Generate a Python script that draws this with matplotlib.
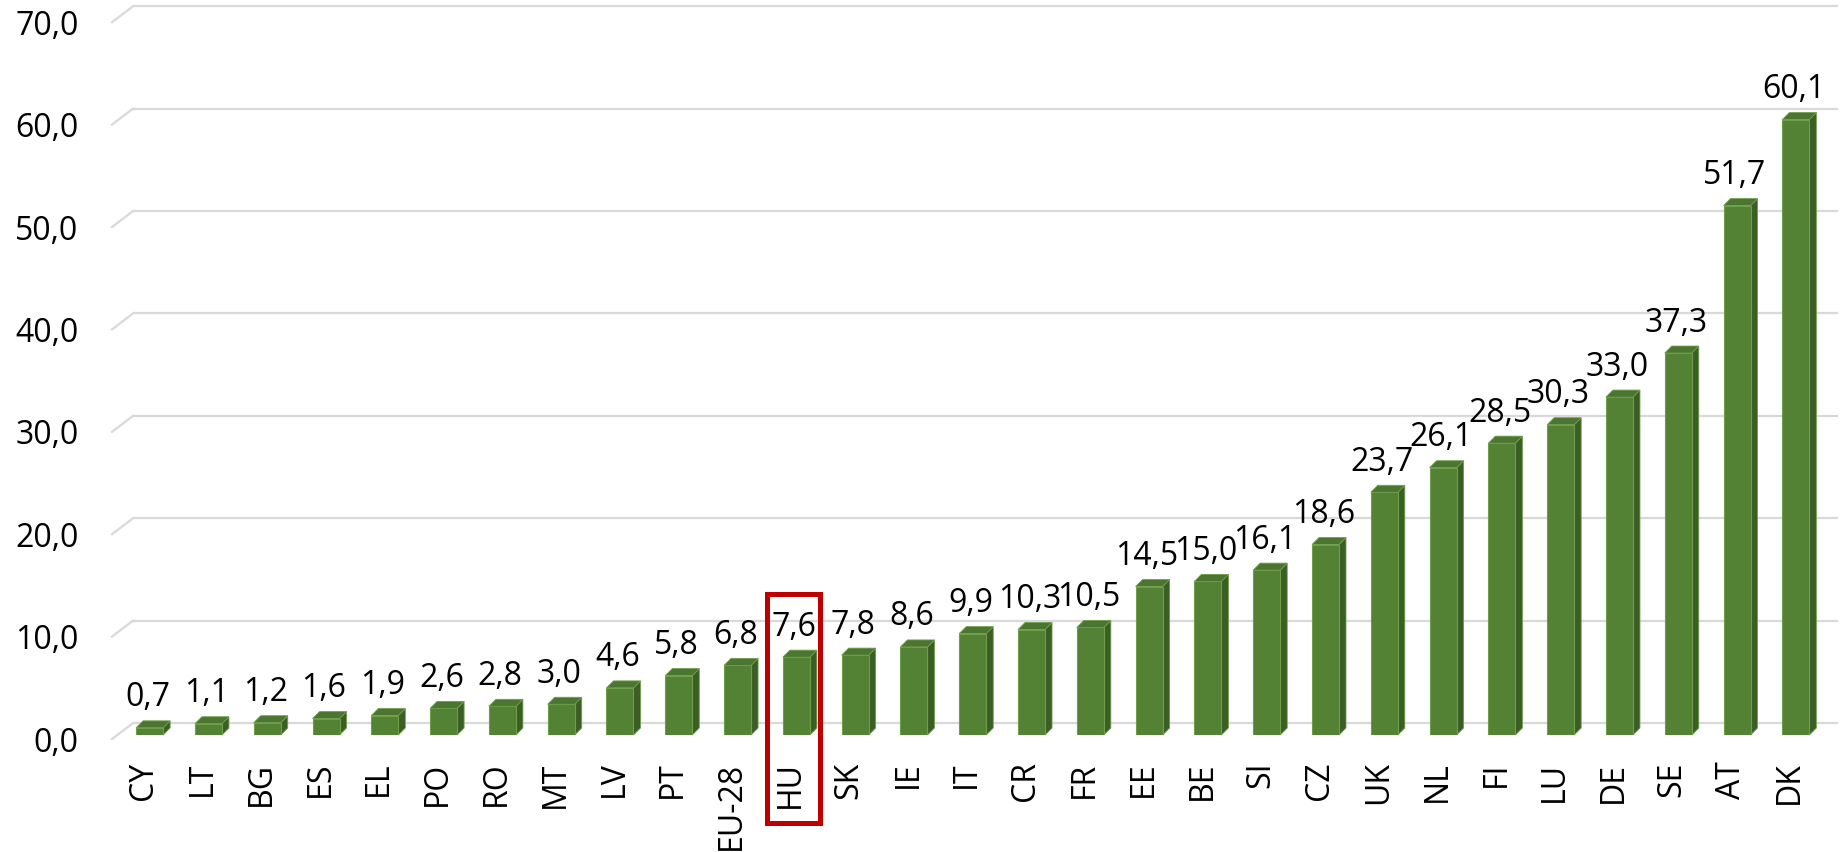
import matplotlib
matplotlib.use('Agg')
import matplotlib.pyplot as plt
import matplotlib.transforms as mtransforms
from matplotlib.patches import Polygon, Rectangle

countries = ['CY', 'LT', 'BG', 'ES', 'EL', 'PO', 'RO', 'MT', 'LV', 'PT', 'EU-28',
             'HU', 'SK', 'IE', 'IT', 'CR', 'FR', 'EE', 'BE', 'SI', 'CZ', 'UK',
             'NL', 'FI', 'LU', 'DE', 'SE', 'AT', 'DK']
values = [0.7, 1.1, 1.2, 1.6, 1.9, 2.6, 2.8, 3.0, 4.6, 5.8, 6.8,
          7.6, 7.8, 8.6, 9.9, 10.3, 10.5, 14.5, 15.0, 16.1, 18.6, 23.7,
          26.1, 28.5, 30.3, 33.0, 37.3, 51.7, 60.1]
y_ticks = [0, 10, 20, 30, 40, 50, 60, 70]
highlight = 'HU'

plt.rcParams['font.family'] = ['Open Sans', 'DejaVu Sans']

W, H = 1845, 852
fig = plt.figure(figsize=(W / 100, H / 100), dpi=100)
# axes = the plane where the bar front faces sit
ax_l, ax_w = 117.3, 1705.0
ax_b, ax_h = 735.0, 716.8
ax = fig.add_axes([ax_l / W, (H - ax_b) / H, ax_w / W, ax_h / H])
ax.set_xlim(-0.55, 28.45)
ax.set_ylim(0, 70)

ux = 29 / ax_w      # data units per pixel, x
uy = 70 / ax_h      # data units per pixel, y

x0, x1 = ax.get_xlim()
grid_c = '#D9D9D9'
# back wall gridlines + left diagonal from the floor front
for t in y_ticks:
    bx, by = 15.75 * ux, 12 * uy
    fx, fy = -5.25 * ux, -4 * uy
    ax.plot([x0 + bx, x1 + bx], [t + by, t + by], color=grid_c, lw=1.6,
            clip_on=False, zorder=1, solid_capstyle='butt')
    ax.plot([x0 + fx, x0 + bx], [t + fy, t + by], color=grid_c, lw=1.6,
            clip_on=False, zorder=1)

front_c = '#548235'
side_c = '#3B5E24'
top_c = '#4B7530'
edge_c = '#6E9E4A'
w = 27 / 58.79
dx, dy = 7 * ux, 7 * uy
xs = list(range(len(countries)))

ax.bar(xs, values, width=w, color=front_c, edgecolor=edge_c, linewidth=0.8, zorder=3)
for x, v in zip(xs, values):
    r, l = x + w / 2, x - w / 2
    ax.add_patch(Polygon([(r, 0), (r + dx, dy), (r + dx, v + dy), (r, v)],
                         closed=True, facecolor=side_c, edgecolor=edge_c,
                         linewidth=0.6, zorder=2.5, clip_on=False))
    ax.add_patch(Polygon([(l, v), (l + dx, v + dy), (r + dx, v + dy), (r, v)],
                         closed=True, facecolor=top_c, edgecolor=edge_c,
                         linewidth=0.6, zorder=3.5, clip_on=False))
    ax.annotate(f'{v:.1f}'.replace('.', ','), (x, v), xytext=(-1.5, 15.5),
                textcoords='offset points', ha='center', va='baseline',
                fontsize=23, color='#000000', zorder=5, annotation_clip=False)

for s in ax.spines.values():
    s.set_visible(False)

ax.set_yticks(y_ticks)
ax.set_yticklabels([f'{t:.1f}'.replace('.', ',') for t in y_ticks], fontsize=23)
ax.set_xticks(xs)
ax.set_xticklabels(countries, rotation=90, fontsize=23)
ax.tick_params(axis='y', length=0, pad=28)
ax.tick_params(axis='x', length=0, pad=19)
off_y = mtransforms.ScaledTranslation(0, -4 / 100, fig.dpi_scale_trans)
for lab in ax.get_yticklabels():
    lab.set_transform(lab.get_transform() + off_y)
off_x = mtransforms.ScaledTranslation(-6 / 100, 0, fig.dpi_scale_trans)
for lab in ax.get_xticklabels():
    lab.set_transform(lab.get_transform() + off_x)

# red frame around the highlighted country
hi = countries.index(highlight)
ax.add_patch(Rectangle((hi - 0.5, -8.59), 0.9, 22.36, fill=False,
                       edgecolor='#C00000', linewidth=3.6, clip_on=False, zorder=6))

fig.savefig('out.png', dpi=100)
